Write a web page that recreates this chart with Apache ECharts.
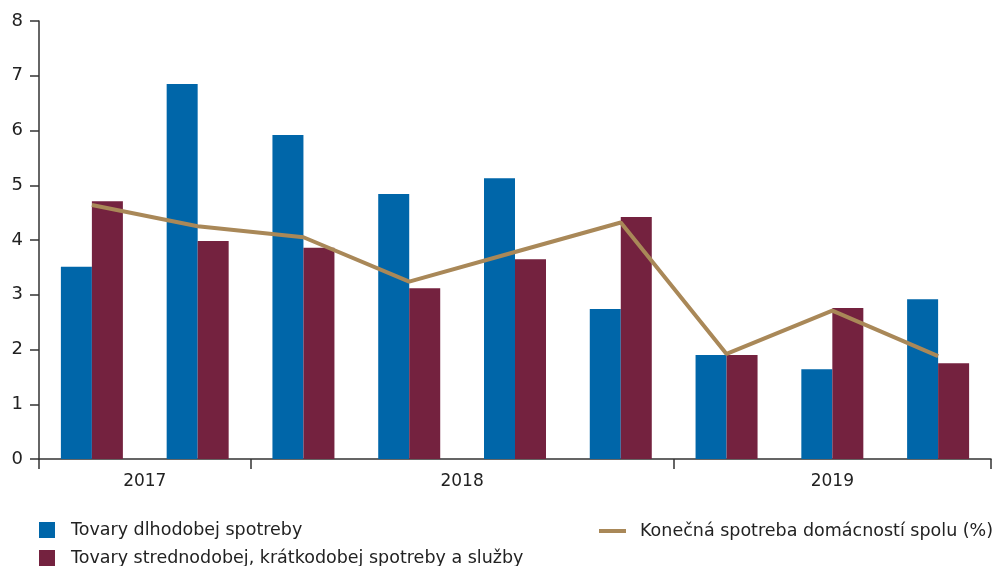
<!DOCTYPE html>
<html>
<head>
<meta charset="utf-8">
<script src="https://cdn.jsdelivr.net/npm/echarts@6/dist/echarts.min.js"></script>
<style>
  html, body { margin: 0; padding: 0; background: #fff; }
  #container { width: 994px; height: 566px; }
</style>
</head>
<body>
<div id="container"></div>
<script>
// štvrťroky
const quarters = ['Q3 2017', 'Q4 2017', 'Q1 2018', 'Q2 2018', 'Q3 2018', 'Q4 2018', 'Q1 2019', 'Q2 2019', 'Q3 2019']
const years = ['2017', '2018', '2019']
const yTicks = [0, 1, 2, 3, 4, 5, 6, 7, 8]

const durable = [3.51, 6.85, 5.92, 4.84, 5.13, 2.74, 1.90, 1.64, 2.92]
const nonDurable = [4.71, 3.98, 3.86, 3.12, 3.65, 4.42, 1.90, 2.76, 1.75]
const total = [4.64, 4.25, 4.05, 3.24, 3.78, 4.32, 1.92, 2.71, 1.88]

const seriesNames = [
  'Tovary dlhodobej spotreby',
  'Tovary strednodobej, krátkodobej spotreby a služby',
  'Konečná spotreba domácností spolu (%)'
]

const FONT = 'DejaVu Sans'
const AXIS_COLOR = '#333'
const TEXT_COLOR = '#222'

// hranice rokov a stredy pre popisky (v jednotkách kategórií)
let bounds = [0]
let mids = []
years.forEach(function (y) {
  let n = quarters.filter(function (q) { return q.endsWith(y) }).length
  let start = bounds[bounds.length - 1]
  mids.push(start + n / 2)
  bounds.push(start + n)
})

function legendText(pad) {
  return { fontSize: 17.5, lineHeight: 16, color: TEXT_COLOR, fontFamily: FONT, padding: [0, 0, 0, pad] }
}

let chartDom = document.getElementById('container')
let myChart = echarts.init(chartDom, null, { renderer: 'canvas' })

let option = {
  animation: false,
  textStyle: { fontFamily: FONT },
  grid: {
    left: 39,
    right: 3,
    top: 21,
    bottom: 107
  },
  legend: [
    {
      data: [seriesNames[0]],
      left: 39,
      top: 521,
      padding: 0,
      itemWidth: 16,
      itemHeight: 16,
      icon: 'rect',
      textStyle: legendText(11)
    },
    {
      data: [seriesNames[1]],
      left: 39,
      top: 549,
      padding: 0,
      itemWidth: 16,
      itemHeight: 16,
      icon: 'rect',
      textStyle: legendText(11)
    },
    {
      data: [seriesNames[2]],
      left: 599,
      top: 522,
      padding: 0,
      itemWidth: 27,
      itemHeight: 4,
      icon: 'rect',
      textStyle: legendText(9)
    }
  ],
  xAxis: [
    {
      type: 'category',
      data: quarters,
      axisLine: { lineStyle: { color: AXIS_COLOR, width: 1.5 } },
      axisTick: { show: false },
      axisLabel: { show: false }
    },
    {
      type: 'value',
      position: 'bottom',
      min: 0,
      max: quarters.length,
      splitLine: { show: false },
      axisLine: { show: false },
      axisTick: {
        show: true,
        length: 10,
        customValues: bounds,
        lineStyle: { color: AXIS_COLOR, width: 1.5 }
      },
      axisLabel: {
        customValues: mids,
        formatter: function (v) {
          return years[mids.indexOf(v)] || ''
        },
        fontSize: 17,
        color: TEXT_COLOR,
        margin: 14,
        fontFamily: FONT
      }
    }
  ],
  yAxis: {
    type: 'value',
    min: yTicks[0],
    max: yTicks[yTicks.length - 1],
    interval: 1,
    splitLine: { show: false },
    axisLine: { show: true, lineStyle: { color: AXIS_COLOR, width: 1.5 } },
    axisTick: { show: true, length: 9, lineStyle: { color: AXIS_COLOR, width: 1.5 } },
    axisLabel: { fontSize: 18, color: TEXT_COLOR, margin: 16, fontFamily: FONT }
  },
  series: [
    {
      name: seriesNames[0],
      type: 'bar',
      data: durable,
      itemStyle: { color: '#0066A9' },
      barWidth: 31,
      barGap: '0%'
    },
    {
      name: seriesNames[1],
      type: 'bar',
      data: nonDurable,
      itemStyle: { color: '#74223F' },
      barWidth: 31,
      barGap: '0%'
    },
    {
      name: seriesNames[2],
      type: 'line',
      data: total,
      symbol: 'none',
      lineStyle: { color: '#A98858', width: 4 },
      itemStyle: { color: '#A98858' }
    }
  ]
}

option && myChart.setOption(option)
</script>
</body>
</html>
